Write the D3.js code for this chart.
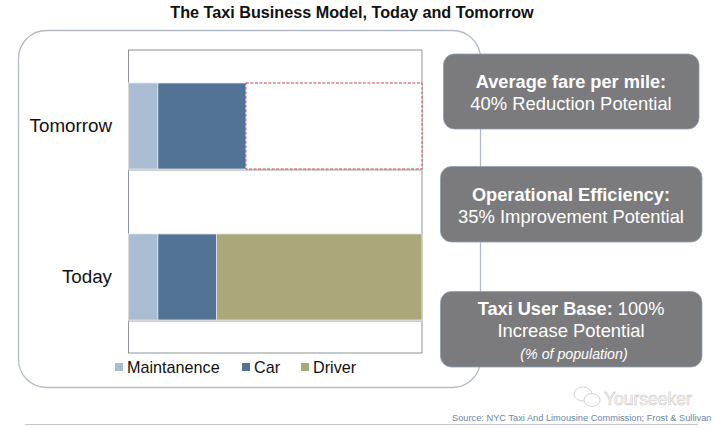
<!DOCTYPE html>
<html>
<head>
<meta charset="utf-8">
<script src="https://cdn.jsdelivr.net/npm/d3@7"></script>
<style>
html, body { margin: 0; padding: 0; background: #fff; }
svg { display: block; font-family: "Liberation Sans", Arial, sans-serif; }
</style>
</head>
<body>
<div id="graph"></div>
<script>
const fullWidth = 720;
const fullHeight = 429;

// chart data, share of the cost of a ride
const categories = ["Tomorrow", "Today"];
const seriesNames = ["Maintanence", "Car", "Driver"];
const maintanence = [10, 10];
const car = [30, 20];
const driver = [0, 70];
const removed = [60, 0];   // dashed part, tomorrow only
const colors = ["#a9bcd2", "#527396", "#a9a878"];

// callouts on the right
const calloutBold = ["Average fare per mile:", "Operational Efficiency:", "Taxi User Base: "];
const calloutPlain = ["40% Reduction Potential", "35% Improvement Potential", "Increase Potential"];

const plot = { left: 128.5, right: 422, top: 50, bottom: 353 };

var svg = d3.select("#graph")
	.append("svg")
	.attr("width", fullWidth)
	.attr("height", fullHeight);

// title
svg.append("text")
	.text("The Taxi Business Model, Today and Tomorrow")
	.attr("x", 352)
	.attr("y", 18)
	.attr("text-anchor", "middle")
	.attr("font-size", 16.2)
	.attr("font-weight", "bold")
	.attr("fill", "#111");

// big rounded frame behind chart and callouts
svg.append("rect")
	.attr("x", 18.5)
	.attr("y", 30.5)
	.attr("width", 462)
	.attr("height", 357)
	.attr("rx", 28)
	.attr("fill", "#fff")
	.attr("stroke", "#b4bbc4")
	.attr("stroke-width", 1.3);

var x = d3.scaleLinear()
	.domain([0, 100])
	.range([plot.left, plot.right]);

var y = d3.scaleBand()
	.domain(categories)
	.range([plot.top, plot.bottom])
	.paddingInner(0.43)
	.paddingOuter(0.2185);

var rows = categories.map((c, i) => ({
	category: c,
	Maintanence: maintanence[i],
	Car: car[i],
	Driver: driver[i]
}));
var stacked = d3.stack().keys(seriesNames)(rows);

// plot border
svg.append("rect")
	.attr("x", plot.left)
	.attr("y", plot.top)
	.attr("width", plot.right - plot.left)
	.attr("height", plot.bottom - plot.top)
	.attr("fill", "#fff")
	.attr("stroke", "#8f9296")
	.attr("stroke-width", 1);

// soft line under each bar
svg.append("g").selectAll("rect")
	.data(categories)
	.enter().append("rect")
	.attr("x", plot.left)
	.attr("y", d => y(d) + y.bandwidth())
	.attr("width", plot.right - plot.left)
	.attr("height", 2)
	.attr("fill", "#cfcfcf");

// stacked bars
svg.append("g").selectAll("g")
	.data(stacked)
	.enter().append("g")
	.attr("fill", (d, i) => colors[i])
	.selectAll("rect")
	.data(d => d.filter(s => s[1] > s[0]))
	.enter().append("rect")
	.attr("x", d => x(d[0]))
	.attr("y", d => y(d.data.category))
	.attr("width", d => x(d[1]) - x(d[0]))
	.attr("height", y.bandwidth())
	.attr("stroke", "#e4e6e4")
	.attr("stroke-width", 0.8);

// dashed box for the cost that goes away
svg.append("g").selectAll("rect")
	.data(categories.filter((c, i) => removed[i] > 0))
	.enter().append("rect")
	.attr("x", d => x(100 - removed[categories.indexOf(d)]))
	.attr("y", d => y(d))
	.attr("width", d => x(100) - x(100 - removed[categories.indexOf(d)]))
	.attr("height", y.bandwidth())
	.attr("fill", "#fff")
	.attr("stroke", "#c4404f")
	.attr("stroke-width", 1)
	.attr("stroke-dasharray", "3,1.5");

// category labels
var yAxis = d3.axisLeft(y).tickSize(0).tickPadding(16.5);
var yG = svg.append("g")
	.attr("transform", "translate(" + plot.left + ",0)")
	.call(yAxis);
yG.select(".domain").remove();
yG.selectAll("text")
	.attr("font-family", "'Liberation Sans', Arial, sans-serif")
	.attr("font-size", 18.8)
	.attr("fill", "#111");

// legend
const legendX = [115, 242, 301];
var legend = svg.append("g").selectAll("g")
	.data(seriesNames)
	.enter().append("g")
	.attr("transform", (d, i) => "translate(" + legendX[i] + ",363)");
legend.append("rect")
	.attr("width", 8)
	.attr("height", 8)
	.attr("fill", (d, i) => colors[i]);
legend.append("text")
	.text(d => d)
	.attr("x", 12)
	.attr("y", 10)
	.attr("font-size", 16.2)
	.attr("fill", "#111");

// callout boxes
const boxes = [
	{ x: 443.5, y: 54, w: 255.5, h: 75 },
	{ x: 440.5, y: 166.5, w: 261.5, h: 75.5 },
	{ x: 440.5, y: 291.5, w: 261.5, h: 75.5 }
];
svg.append("g").selectAll("rect")
	.data(boxes)
	.enter().append("rect")
	.attr("x", d => d.x)
	.attr("y", d => d.y)
	.attr("width", d => d.w)
	.attr("height", d => d.h)
	.attr("rx", 11)
	.attr("fill", "#7b7b7d")
	.attr("stroke", "#8fa0b0")
	.attr("stroke-width", 0.8);

const cx = 571;
const lineY = [[88, 110], [200.5, 222.5], [314.5, 337]];
calloutBold.forEach((t, i) => {
	var top = svg.append("text")
		.attr("x", cx)
		.attr("y", lineY[i][0])
		.attr("text-anchor", "middle")
		.attr("font-size", 18.2)
		.attr("fill", "#fff");
	top.append("tspan").attr("font-weight", "bold").text(t);
	if (i == 2) top.append("tspan").text("100%");
	svg.append("text")
		.text(calloutPlain[i])
		.attr("x", cx)
		.attr("y", lineY[i][1])
		.attr("text-anchor", "middle")
		.attr("font-size", 18.4)
		.attr("fill", "#fff");
});
svg.append("text")
	.text("(% of population)")
	.attr("x", cx + 3)
	.attr("y", 359)
	.attr("text-anchor", "middle")
	.attr("font-size", 14.2)
	.attr("font-style", "italic")
	.attr("fill", "#fff");

// watermark
svg.append("g")
	.attr("fill", "#fff")
	.attr("stroke", "#d2d2d2")
	.attr("stroke-width", 1)
	.selectAll("ellipse")
	.data([{ x: 583, y: 394, rx: 9, ry: 7 }, { x: 592, y: 400, rx: 8, ry: 6.5 }])
	.enter().append("ellipse")
	.attr("cx", d => d.x)
	.attr("cy", d => d.y)
	.attr("rx", d => d.rx)
	.attr("ry", d => d.ry);
svg.append("text")
	.text("Yourseeker")
	.attr("x", 604)
	.attr("y", 405)
	.attr("font-size", 17.5)
	.attr("fill", "#fff")
	.attr("stroke", "#c8c8c8")
	.attr("stroke-width", 0.6);

// source and footer rule
svg.append("text")
	.text("Source: NYC Taxi And Limousine Commission; Frost & Sullivan")
	.attr("x", 452)
	.attr("y", 421)
	.attr("font-size", 9.25)
	.attr("fill", "#6b86a3");
svg.append("line")
	.attr("x1", 25)
	.attr("x2", 698)
	.attr("y1", 424.5)
	.attr("y2", 424.5)
	.attr("stroke", "#c4c8cc")
	.attr("stroke-width", 1);
</script>
</body>
</html>
